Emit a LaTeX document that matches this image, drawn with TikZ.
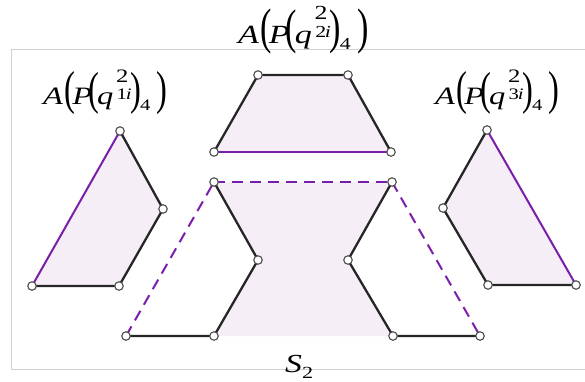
\documentclass[tikz,border=0pt]{standalone}
\usepackage{graphicx}
\usepackage{fontspec}
\setmainfont{Liberation Serif}
\newcommand\opa{\scalebox{1}[1.9]{(}}
\newcommand\cpa{\scalebox{1}[1.9]{)}}
\newcommand\opb{\scalebox{1}[1.85]{(}}
\newcommand\cpb{\scalebox{1}[1.85]{)}}
\newcommand\putat[3]{\rlap{\hspace*{#1pt}\raisebox{#2pt}{#3}}}
\newcommand\qlab[1]{\scalebox{1.3}[1]{%
\putat{0}{0}{\textit{A}}%
\putat{16}{0}{\opa}%
\putat{22.5}{0}{\textit{P}}%
\putat{34.5}{0}{\opb}%
\putat{41.5}{0}{\textit{q}}%
\putat{56}{22}{\fontsize{19}{19}\selectfont 2}%
\putat{56.5}{5}{\fontsize{16}{16}\selectfont #1}%
\putat{63.5}{5}{\fontsize{16}{16}\selectfont\textit{i}}%
\putat{67}{0}{\cpb}%
\putat{74.5}{-6}{\fontsize{16}{16}\selectfont 4}%
\putat{87.5}{0}{\cpa}%
\hspace*{96pt}}}
\begin{document}
\begin{tikzpicture}[x=1pt,y=-1pt,
  edge/.style={draw=black!85,line width=2.3pt},
  pedge/.style={draw=violet1,line width=2pt},
  dedge/.style={draw=violet1,line width=2pt,dash pattern=on 11pt off 7pt},
  areafill/.style={fill=lav},
  vtx/.style={circle,draw=black!70,fill=white,line width=1.1pt,minimum size=8.5pt,inner sep=0pt},
  lbl/.style={anchor=base west,inner sep=0pt,font=\fontsize{25}{30}\selectfont}]
\definecolor{violet1}{RGB}{122,30,170}
\definecolor{lav}{RGB}{245,238,247}
\useasboundingbox (0,0) rectangle (585,381);
% frame
\draw[black!18,line width=1pt] (590,49.5) -- (11,49.5) -- (11,369) -- (590,369);
% left polygon
\coordinate (l1) at (120,131);
\coordinate (l2) at (163,209);
\coordinate (l3) at (119,286);
\coordinate (l4) at (32,286);
% top trapezoid
\coordinate (t1) at (258,75);
\coordinate (t2) at (348,75);
\coordinate (t3) at (391,152);
\coordinate (t4) at (214,152);
% right polygon
\coordinate (r1) at (487,130);
\coordinate (r2) at (443,208);
\coordinate (r3) at (488,285);
\coordinate (r4) at (576,285);
% central lower
\coordinate (c1) at (214,182);
\coordinate (c2) at (392,182);
\coordinate (c3) at (348,260);
\coordinate (c4) at (393,336);
\coordinate (c5) at (480,336);
\coordinate (c6) at (214,336);
\coordinate (c7) at (258,260);
\coordinate (c8) at (126,336);
% fills
\fill[areafill] (l1) -- (l2) -- (l3) -- (l4) -- cycle;
\fill[areafill] (t1) -- (t2) -- (t3) -- (t4) -- cycle;
\fill[areafill] (r1) -- (r2) -- (r3) -- (r4) -- cycle;
\fill[areafill] (c1) -- (c2) -- (c3) -- (c4) -- (c6) -- (c7) -- cycle;
% edges
\draw[pedge] (l4) -- (l1);
\draw[edge,line join=round] (l1) -- (l2) -- (l3) -- (l4);
\draw[pedge] (t3) -- (t4);
\draw[edge,line join=round] (t4) -- (t1) -- (t2) -- (t3);
\draw[pedge] (r1) -- (r4);
\draw[edge,line join=round] (r1) -- (r2) -- (r3) -- (r4);
\draw[dedge] (c1) -- (c2);
\draw[dedge] (c8) -- (c1);
\draw[dedge] (c2) -- (c5);
\draw[edge,line join=round] (c1) -- (c7) -- (c6) -- (c8);
\draw[edge,line join=round] (c2) -- (c3) -- (c4) -- (c5);
% vertices
\foreach \p in {l1,l2,l3,l4,t1,t2,t3,t4,r1,r2,r3,r4,c1,c2,c3,c4,c5,c6,c7,c8}
  \node[vtx] (v\p) at (\p) {};
% labels
\node[lbl] (lab2) at (238,43) {\scalebox{1.05}{\qlab{2}}};
\node[lbl] (lab1) at (43,104) {\qlab{1}};
\node[lbl] (lab3) at (435,104) {\qlab{3}};
\node[lbl,font=\fontsize{26}{30}\selectfont] (labS) at (285,372) {\scalebox{1.3}[1]{\textit{S}\raisebox{-6pt}{\fontsize{17}{17}\selectfont 2}}};
\end{tikzpicture}
\end{document}
